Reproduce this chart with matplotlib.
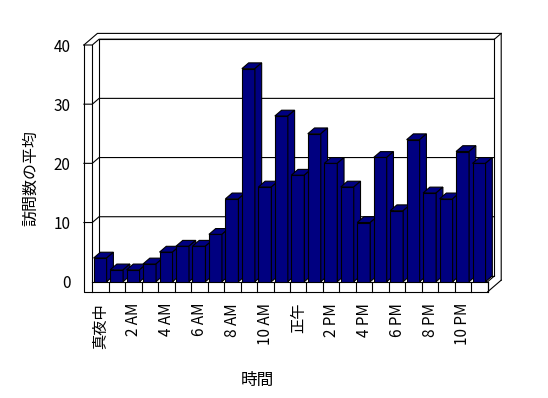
import numpy as np
import matplotlib.pyplot as plt
from matplotlib.patches import Polygon

# average visits per hour (midnight .. 11 PM)
visits = [4, 2, 2, 3, 5, 6, 6, 8, 14, 36, 16, 28, 18,
          25, 20, 16, 10, 21, 12, 24, 15, 14, 22, 20]
hour_labels = ['真夜中', '2 AM', '4 AM', '6 AM', '8 AM', '10 AM',
               '正午', '2 PM', '4 PM', '6 PM', '8 PM', '10 PM']
y_ticks = [0, 10, 20, 30, 40]

plt.rcParams['font.family'] = ['Noto Sans CJK JP', 'DejaVu Sans']

fig = plt.figure(figsize=(5.48, 3.98), dpi=100)
ax = fig.add_axes([92.3 / 548, 116.3 / 398, 395.4 / 548, 236.7 / 398])
n = len(visits)
for s in ax.spines.values():
    s.set_visible(False)

# fake 3-D depth, in data units
dx, dy = 0.41, 0.98
wall = 0.51    # side wall thickness
floor = 1.7    # floor slab thickness
navy = '#000080'
line = dict(color='black', lw=0.8, clip_on=False, zorder=1)
top = y_ticks[-1]

# back wall
ax.plot([dx, dx, n + dx, n + dx, dx], [dy, top + dy, top + dy, dy, dy], **line)
ax.plot([-wall, -wall + 2 * dx, n + 2 * dx, n + 2 * dx],
        [top, top + 2 * dy, top + 2 * dy, -floor + 2 * dy], **line)
ax.plot([n + dx, n + 2 * dx], [top + dy, top + 2 * dy], **line)
ax.plot([n, n + 2 * dx], [-floor, -floor + 2 * dy], **line)
ax.plot([n, n + dx], [0, dy], **line)
# side wall + floor front face
ax.plot([-wall, -wall, n, n], [top, -floor, -floor, 0], **line)
ax.plot([0, 0], [top, 0], **line)
ax.plot([0, n], [0, 0], **line)
for i in range(n + 1):
    ax.plot([i, i], [0, -floor], **line)
# gridlines
for v in y_ticks[1:]:
    ax.plot([-wall, 0, dx, n + dx], [v, v, v + dy, v + dy], **line)

bars = ax.bar(np.arange(n) + 0.08, visits, width=0.79, align='edge',
              color=navy, edgecolor='black', linewidth=0.8)
for i, (rect, v) in enumerate(zip(bars, visits)):
    z = 3 + i * 0.1
    rect.set_zorder(z)
    x0 = rect.get_x()
    x1 = x0 + rect.get_width()
    face_top = Polygon([(x0, v), (x1, v), (x1 + dx, v + dy), (x0 + dx, v + dy)],
                       closed=True, facecolor=navy, edgecolor='black',
                       lw=0.8, zorder=z, clip_on=False)
    face_side = Polygon([(x1, 0), (x1 + dx, dy), (x1 + dx, v + dy), (x1, v)],
                        closed=True, facecolor=navy, edgecolor='black',
                        lw=0.8, zorder=z, clip_on=False)
    ax.add_patch(face_top)
    ax.add_patch(face_side)

ax.set_xlim(0, n)
ax.set_ylim(0, 40)
ax.set_xticks(np.arange(0, n, 2) + 0.5, hour_labels, rotation=90, fontsize=11)
ax.set_yticks(y_ticks)
ax.tick_params(axis='x', length=0, pad=15.3)
ax.tick_params(axis='y', length=0, pad=15.5, labelsize=11)

ax.set_ylabel('訪問数の平均', fontsize=11.5)
ax.yaxis.set_label_coords(-0.135, 0.44)
ax.set_xlabel('時間', fontsize=12)
ax.xaxis.set_label_coords(0.4166, -0.38)

fig.savefig('out.png', dpi=100)
